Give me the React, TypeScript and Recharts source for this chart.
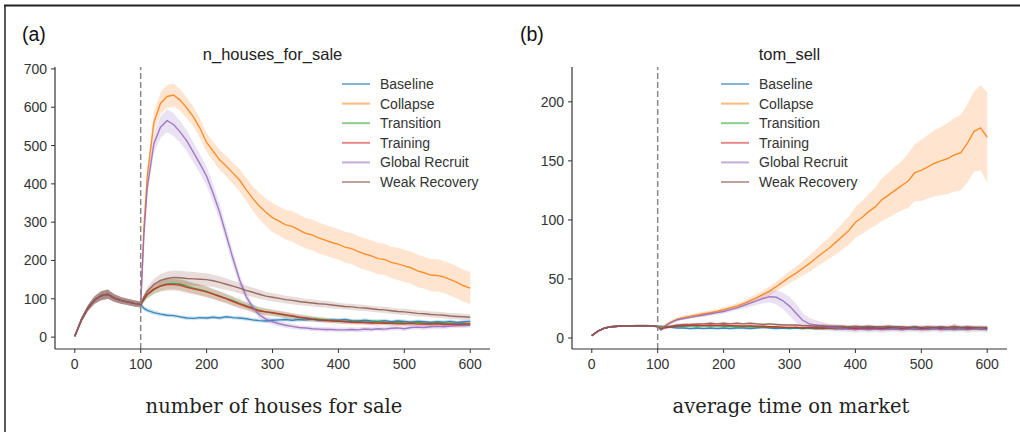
import React from "react";
import {
  ComposedChart,
  Line,
  Area,
  XAxis,
  YAxis,
  ReferenceLine,
  Legend,
} from "recharts";

// time steps shared by both panels (warm-up 0..100, then intervention run)
const TIME = [
  0, 10, 20, 30, 40, 50, 60, 70, 80, 90, 100,
  105, 110, 120, 130, 140, 150, 160, 170, 180, 190, 200,
  210, 220, 230, 240, 250, 260, 270, 280, 290, 300,
  310, 320, 330, 340, 350, 360, 370, 380, 390, 400,
  410, 420, 430, 440, 450, 460, 470, 480, 490, 500,
  510, 520, 530, 540, 550, 560, 570, 580, 590, 600,
];

const SERIES_NAMES = ["Baseline", "Collapse", "Transition", "Training", "Global Recruit", "Weak Recovery"];
const SERIES_COLORS = ["#1f77b4", "#ff7f0e", "#2ca02c", "#d62728", "#9467bd", "#8c564b"];
const X_TICKS = [0, 100, 200, 300, 400, 500, 600];

// ---- panel (a): n_houses_for_sale ----
const warmupA = [2, 45, 76, 97, 108, 112, 102, 96, 92, 88, 85];
const warmupSpreadA = [1, 6, 8, 10, 12, 12, 10, 9, 8, 8, 8];

const baselineA = [
  75, 70, 64, 60, 57, 56, 53, 50, 49, 51, 50,
  52, 50, 53, 51, 50, 48, 45, 43, 42, 44,
  45, 46, 44, 46, 45, 47, 44, 43, 45, 44,
  46, 43, 42, 44, 42, 41, 43, 40, 42, 41,
  39, 41, 40, 38, 40, 39, 41, 38, 40, 41,
];
const collapseA = [
  290, 420, 560, 610, 628, 632, 618, 598, 575, 545, 508,
  485, 462, 446, 428, 410, 385, 362, 342, 326, 312,
  303, 293, 289, 280, 271, 267, 259, 253, 247, 242,
  235, 231, 223, 217, 212, 205, 203, 195, 191, 186,
  181, 173, 168, 162, 161, 157, 150, 143, 134, 128,
];
const transitionA = [
  98, 110, 124, 134, 139, 140, 138, 133, 128, 124, 119,
  113, 107, 101, 95, 88, 82, 76, 70, 66, 63,
  60, 57, 55, 52, 50, 48, 47, 45, 43, 42,
  41, 40, 40, 39, 38, 40, 38, 37, 39, 37,
  36, 38, 36, 35, 37, 35, 36, 34, 35, 34,
];
const trainingA = [
  100, 112, 125, 133, 137, 137, 135, 130, 126, 122, 118,
  112, 106, 100, 93, 86, 80, 74, 68, 66, 64,
  61, 58, 55, 52, 50, 47, 45, 44, 42, 41,
  40, 39, 38, 38, 37, 36, 37, 36, 35, 35,
  36, 34, 35, 34, 35, 33, 34, 33, 34, 35,
];
const globalRecruitA = [
  270, 390, 505, 548, 565, 555, 535, 512, 482, 452, 420,
  375, 325, 265, 205, 150, 106, 78, 58, 47, 40,
  35, 31, 28, 25, 24, 22, 21, 20, 20, 19,
  19, 20, 19, 21, 20, 22, 21, 23, 24, 22,
  25, 26, 25, 27, 28, 27, 29, 30, 30, 31,
];
const weakRecoveryA = [
  105, 120, 138, 148, 153, 156, 155, 153, 152, 151, 150,
  147, 143, 138, 133, 128, 122, 117, 112, 107, 104,
  101, 98, 96, 93, 91, 89, 87, 86, 84, 82,
  80, 79, 77, 76, 74, 72, 71, 69, 67, 66,
  64, 62, 61, 59, 58, 57, 55, 54, 53, 52,
];

const baselineSpreadA = [
  6, 6, 6, 5, 5, 5, 5, 5, 5, 5, 5,
  5, 5, 5, 5, 5, 5, 5, 5, 5, 5,
  5, 5, 5, 5, 5, 5, 5, 5, 5, 5,
  5, 5, 5, 5, 5, 5, 5, 5, 5, 5,
  5, 5, 5, 5, 5, 5, 5, 5, 5, 5,
];
const collapseSpreadA = [
  18, 22, 26, 28, 30, 30, 28, 27, 26, 25, 25,
  25, 26, 27, 28, 29, 30, 32, 34, 36, 38,
  38, 39, 40, 40, 40, 40, 40, 40, 40, 40,
  40, 40, 41, 41, 41, 41, 41, 41, 42, 42,
  42, 42, 42, 42, 42, 42, 42, 42, 42, 42,
];
const transitionSpreadA = [
  8, 10, 12, 14, 15, 15, 15, 15, 14, 14, 14,
  13, 13, 12, 12, 11, 10, 10, 9, 9, 8,
  8, 8, 7, 7, 7, 7, 6, 6, 6, 6,
  6, 6, 6, 6, 6, 6, 6, 6, 6, 6,
  6, 6, 6, 6, 6, 6, 6, 6, 6, 6,
];
const trainingSpreadA = [
  8, 10, 12, 14, 15, 15, 15, 15, 14, 14, 14,
  13, 13, 12, 12, 11, 10, 10, 9, 9, 8,
  8, 8, 7, 7, 7, 7, 6, 6, 6, 6,
  6, 6, 6, 6, 6, 6, 6, 6, 6, 6,
  6, 6, 6, 6, 6, 6, 6, 6, 6, 6,
];
const globalRecruitSpreadA = [
  15, 20, 25, 28, 30, 30, 28, 27, 26, 25, 25,
  24, 22, 20, 18, 15, 12, 10, 9, 8, 8,
  7, 7, 7, 6, 6, 6, 6, 6, 6, 6,
  6, 6, 6, 6, 6, 6, 6, 6, 6, 6,
  6, 6, 6, 6, 6, 6, 6, 6, 6, 6,
];
const weakRecoverySpreadA = [
  8, 10, 14, 16, 18, 18, 18, 18, 18, 17, 17,
  16, 16, 15, 14, 14, 13, 12, 12, 11, 11,
  10, 10, 10, 10, 9, 9, 9, 9, 9, 8,
  8, 8, 8, 8, 8, 8, 8, 8, 8, 8,
  8, 8, 8, 8, 8, 8, 8, 8, 8, 8,
];

// ---- panel (b): tom_sell ----
const warmupB = [2, 6, 8.5, 9.6, 10, 10.2, 10.3, 10.4, 10.5, 10.3, 9.8];
const warmupSpreadB = [0.3, 0.5, 0.6, 0.7, 0.7, 0.7, 0.8, 0.8, 0.8, 0.8, 0.8];

const baselineB = [
  10, 9.5, 9, 8.5, 8.5, 8, 8.5, 8, 8.5, 8, 8.5,
  8, 8.5, 8.5, 8, 8.5, 9, 8.5, 8, 8.5, 8,
  8.5, 8, 8.5, 8, 8.5, 9, 8.5, 8, 8.5, 8,
  8.5, 9, 8.5, 8, 9, 8.5, 8, 8.5, 9, 8.5,
  8, 8.5, 9, 8.5, 8, 8.5, 9, 8.5, 8, 8.5,
];
const collapseB = [
  8.5, 10, 13.5, 16, 17.5, 18.5, 19.5, 20.5, 21.5, 22.5, 24,
  25.5, 27, 29, 31.5, 34, 37, 40, 43.5, 47.5, 51.5,
  55, 59, 63, 67.5, 72, 76, 81, 86, 91, 98,
  102, 107, 111, 117, 121, 125, 129, 133, 140, 142,
  145, 148, 150, 152, 155, 157, 165, 175, 178, 170,
];
const transitionB = [
  8, 9, 9.5, 10, 10, 10.5, 10, 10.5, 10, 10.5, 10,
  10, 9.5, 10, 9.5, 9.5, 9, 9.5, 9, 9, 8.5,
  9, 8.5, 8.5, 8.5, 8, 8.5, 8, 8, 8.5, 8,
  8, 7.5, 8, 8, 7.5, 8, 7.5, 8, 7.5, 8,
  7.5, 8, 7.5, 7.5, 8, 7.5, 7.5, 8, 7.5, 7.5,
];
const trainingB = [
  7, 8.5, 9.5, 10, 10.5, 10.5, 11, 10.5, 11, 10.5, 11,
  10.5, 10.5, 10, 10.5, 10, 10, 9.5, 9.5, 9, 9,
  9, 8.5, 9, 8.5, 8.5, 8.5, 8, 8.5, 8, 8.5,
  8, 8.5, 8, 8, 8.5, 8, 8, 8.5, 8, 8,
  8, 8.5, 8, 8, 8.5, 8, 8, 8.5, 8, 8,
];
const globalRecruitB = [
  7, 9.5, 13, 15.5, 16.5, 17.5, 18.5, 19.5, 20.5, 21.5, 22.5,
  24, 25.5, 27.5, 29.5, 31.5, 33.5, 35, 34.5, 31.5, 27,
  21, 15, 12, 11, 10, 9, 8.5, 8, 7.5, 7,
  7.5, 7, 7.5, 7, 7.5, 8, 7, 7.5, 8, 7,
  7.5, 8, 7, 8, 7.5, 8, 7, 7.5, 8, 7,
];
const weakRecoveryB = [
  7.5, 9, 10, 11, 11.5, 11.5, 12, 12, 12.5, 12, 12.5,
  12, 12.5, 12, 12.5, 12, 11.5, 12, 11.5, 11, 11,
  11, 10.5, 10.5, 10, 10.5, 10, 10, 10, 9.5, 10,
  9.5, 10, 9.5, 9.5, 10, 9.5, 9.5, 9, 9.5, 9,
  9.5, 9, 9.5, 9, 10, 9, 9.5, 9, 9, 9,
];

const steadySpreadB = [
  1, 1, 1, 1, 1, 1, 1, 1, 1, 1, 1,
  1, 1, 1, 1, 1, 1, 1, 1, 1, 1,
  1, 1, 1, 1.5, 1.5, 1.5, 1.5, 1.5, 1.5, 1.5,
  1.5, 1.5, 1.5, 1.5, 1.5, 1.5, 1.5, 1.5, 1.5, 1.5,
  1.5, 1.5, 1.5, 1.5, 2, 1.5, 1.5, 1.5, 1.5, 1.5,
];
const collapseSpreadB = [
  1, 1, 1.5, 1.5, 1.5, 1.5, 2, 2, 2, 2, 2,
  2, 2.5, 2.5, 3, 3, 3.5, 4, 4, 4.5, 5,
  5.5, 6, 7, 7.5, 8.5, 9, 10, 11, 12, 13,
  14, 15, 16, 18, 19, 20, 21, 23, 24, 26,
  27, 28, 29, 30, 31, 32, 33, 34, 36, 38,
];
const globalRecruitSpreadB = [
  1, 1, 1, 1, 1, 1, 1, 1.5, 1.5, 1.5, 2,
  2, 2, 2.5, 3, 3.5, 4, 5, 6, 7, 8,
  8, 6, 5, 4, 3.5, 3, 3, 2.5, 2.5, 2.5,
  2.5, 2.5, 2.5, 2.5, 2.5, 2.5, 2.5, 2.5, 2.5, 2.5,
  2.5, 2.5, 2.5, 2.5, 2.5, 2.5, 2.5, 2.5, 2.5, 2.5,
];

const FONT = "'Liberation Sans', Arial, sans-serif";

type Row = Record<string, number | number[]>;

function buildRows(warmup: number[], warmupSpread: number[], means: number[][], spreads: number[][]): Row[] {
  return TIME.map((t, i) => {
    const row: Row = { t };
    means.forEach((m, k) => {
      const v = i < warmup.length ? warmup[i] : m[i - warmup.length];
      const sp = i < warmup.length ? warmupSpread[i] : spreads[k][i - warmup.length];
      row[`s${k}`] = v;
      row[`b${k}`] = [v - sp, v + sp];
    });
    return row;
  });
}

const rowsA = buildRows(
  warmupA,
  warmupSpreadA,
  [baselineA, collapseA, transitionA, trainingA, globalRecruitA, weakRecoveryA],
  [baselineSpreadA, collapseSpreadA, transitionSpreadA, trainingSpreadA, globalRecruitSpreadA, weakRecoverySpreadA]
);
const rowsB = buildRows(
  warmupB,
  warmupSpreadB,
  [baselineB, collapseB, transitionB, trainingB, globalRecruitB, weakRecoveryB],
  [steadySpreadB, collapseSpreadB, steadySpreadB, steadySpreadB, globalRecruitSpreadB, steadySpreadB]
);

const tickStyle = { fontSize: 14, fontFamily: FONT, fill: "#333" };

function LegendBox() {
  return (
    <svg width={170} height={122}>
      {SERIES_NAMES.map((name, i) => {
        const cy = 10 + i * 19.6;
        return (
          <g key={name}>
            <line x1={1} x2={29} y1={cy} y2={cy} stroke={SERIES_COLORS[i]} strokeOpacity={0.55} strokeWidth={2} />
            <text x={39} y={cy + 5} fontSize={14} fontFamily={FONT} fill="#333">
              {name}
            </text>
          </g>
        );
      })}
    </svg>
  );
}

type PanelProps = {
  left: number;
  rows: Row[];
  yAxisWidth: number;
  marginRight: number;
  yDomain: [number, number];
  yTicks: number[];
  legendLeft: number;
};

function Panel({ left, rows, yAxisWidth, marginRight, yDomain, yTicks, legendLeft }: PanelProps) {
  return (
    <div style={{ position: "absolute", left, top: 0 }}>
      <ComposedChart width={510} height={432} data={rows} margin={{ top: 67, right: marginRight, bottom: 53, left: 0 }}>
        <XAxis
          dataKey="t"
          type="number"
          domain={[-30, 630]}
          ticks={X_TICKS}
          height={30}
          tick={tickStyle}
          tickSize={4}
          tickMargin={6}
          stroke="#333"
          axisLine={{ stroke: "#333", strokeWidth: 1.2 }}
          tickLine={{ stroke: "#333" }}
          allowDataOverflow
        />
        <YAxis
          type="number"
          domain={yDomain}
          ticks={yTicks}
          width={yAxisWidth}
          tick={tickStyle}
          tickSize={4}
          tickMargin={4}
          stroke="#333"
          axisLine={{ stroke: "#333", strokeWidth: 1.2 }}
          tickLine={{ stroke: "#333" }}
          allowDataOverflow
        />
        {SERIES_NAMES.map((name, k) => [
          <Area
            key={`band-${k}`}
            dataKey={`b${k}`}
            type="linear"
            stroke="none"
            fill={SERIES_COLORS[k]}
            fillOpacity={0.2}
            dot={false}
            activeDot={false}
            legendType="none"
            isAnimationActive={false}
          />,
          <Line
            key={`line-${k}`}
            dataKey={`s${k}`}
            name={name}
            type="linear"
            stroke={SERIES_COLORS[k]}
            strokeOpacity={0.85}
            strokeWidth={1.4}
            dot={false}
            activeDot={false}
            isAnimationActive={false}
          />,
        ])}
        <ReferenceLine x={100} stroke="#888" strokeWidth={1.5} strokeDasharray="6 3" />
        <Legend
          layout="vertical"
          align="center"
          verticalAlign="middle"
          content={() => <LegendBox />}
          wrapperStyle={{ left: legendLeft, top: 73.5, width: 170, height: 122 }}
        />
      </ComposedChart>
    </div>
  );
}

export default function App() {
  return (
    <div style={{ position: "absolute", left: 0, top: 0, width: 1020, height: 432, background: "#fff", overflow: "hidden" }}>
      <Panel
        left={0}
        rows={rowsA}
        yAxisWidth={55}
        marginRight={20}
        yDomain={[-31, 705]}
        yTicks={[0, 100, 200, 300, 400, 500, 600, 700]}
        legendLeft={341}
      />
      <Panel
        left={510}
        rows={rowsB}
        yAxisWidth={62}
        marginRight={13}
        yDomain={[-9.3, 229.5]}
        yTicks={[0, 50, 100, 150, 200]}
        legendLeft={210}
      />
      <svg width={1020} height={432} style={{ position: "absolute", left: 0, top: 0, pointerEvents: "none" }}>
        <line x1={4} x2={1020} y1={5.5} y2={5.5} stroke="#222" strokeWidth={2} />
        <line x1={5} x2={5} y1={5} y2={432} stroke="#222" strokeWidth={1.5} />
        <text x={22} y={40.5} fontSize={19.5} fontFamily={FONT} fill="#111">(a)</text>
        <text x={520} y={40.5} fontSize={19.5} fontFamily={FONT} fill="#111">(b)</text>
        <text x={272.5} y={60} fontSize={16.5} fontFamily={FONT} fill="#222" textAnchor="middle">n_houses_for_sale</text>
        <text x={789.5} y={60} fontSize={16.5} fontFamily={FONT} fill="#222" textAnchor="middle">tom_sell</text>
        <text x={274} y={413} fontSize={19.5} fontFamily="'DejaVu Serif', serif" fill="#222" textAnchor="middle">number of houses for sale</text>
        <text x={791} y={413} fontSize={19.5} fontFamily="'DejaVu Serif', serif" fill="#222" textAnchor="middle">average time on market</text>
      </svg>
    </div>
  );
}
